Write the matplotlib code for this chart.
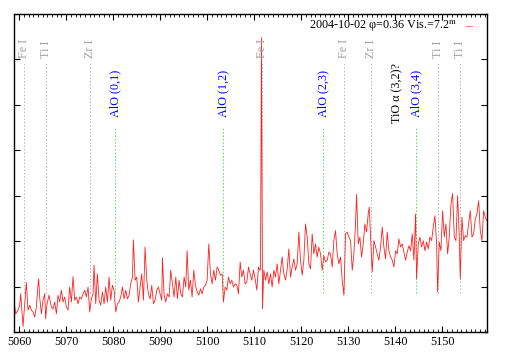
import matplotlib
matplotlib.use("Agg")
import matplotlib.pyplot as plt
from matplotlib.ticker import MultipleLocator, NullFormatter

plt.rcParams["font.family"] = ["Liberation Serif", "DejaVu Serif"]
plt.rcParams["mathtext.fontset"] = "stix"

# spectrum (wavelength in Angstrom, flux in arbitrary units)
wavelength = [
    5058.90, 5059.26, 5059.75, 5060.11, 5060.32, 5060.82, 5061.52, 5061.88, 5062.23, 5062.59,
    5062.94, 5063.30, 5063.65, 5064.01, 5064.15, 5064.36, 5064.72, 5065.07, 5065.43, 5065.64,
    5065.92, 5066.35, 5066.84, 5067.20, 5067.55, 5067.91, 5068.26, 5068.62, 5068.97, 5069.33,
    5069.68, 5070.04, 5070.39, 5070.74, 5071.10, 5071.45, 5071.81, 5072.16, 5072.52, 5072.87,
    5073.23, 5073.58, 5073.94, 5074.29, 5074.65, 5075.00, 5075.35, 5075.71, 5075.92, 5076.28,
    5076.63, 5076.99, 5077.34, 5077.70, 5078.05, 5078.40, 5078.76, 5079.11, 5079.47, 5079.82,
    5080.18, 5080.53, 5080.89, 5081.24, 5081.60, 5081.95, 5082.30, 5082.66, 5083.01, 5083.37,
    5083.72, 5084.08, 5084.29, 5084.65, 5085.00, 5085.35, 5085.71, 5086.06, 5086.42, 5086.77,
    5087.13, 5087.48, 5087.84, 5088.19, 5088.55, 5088.90, 5089.26, 5089.61, 5089.96, 5090.32,
    5090.46, 5090.82, 5091.17, 5091.52, 5091.88, 5092.23, 5092.59, 5092.94, 5093.30, 5093.65,
    5094.01, 5094.36, 5094.72, 5095.07, 5095.43, 5095.71, 5096.06, 5096.42, 5096.77, 5097.13,
    5097.48, 5097.84, 5098.19, 5098.55, 5098.90, 5099.26, 5099.61, 5099.96, 5100.32, 5100.67,
    5101.03, 5101.38, 5101.74, 5102.09, 5102.45, 5102.80, 5103.16, 5103.44, 5103.79, 5104.15,
    5104.50, 5104.86, 5105.21, 5105.57, 5105.92, 5106.28, 5106.63, 5106.99, 5107.34, 5107.70,
    5108.05, 5108.40, 5108.76, 5109.11, 5109.47, 5109.82, 5110.18, 5110.53, 5110.89, 5111.17,
    5111.31, 5111.52, 5111.74, 5112.02, 5112.38, 5112.73, 5113.09, 5113.44, 5113.79, 5114.15,
    5114.50, 5114.86, 5115.21, 5115.57, 5115.92, 5116.28, 5116.63, 5116.99, 5117.34, 5117.70,
    5118.05, 5118.40, 5118.76, 5119.11, 5119.47, 5119.82, 5120.18, 5120.53, 5120.89, 5121.24,
    5121.60, 5121.95, 5122.30, 5122.66, 5123.01, 5123.37, 5123.72, 5124.08, 5124.43, 5124.79,
    5125.14, 5125.50, 5125.85, 5126.21, 5126.56, 5126.91, 5127.27, 5127.62, 5127.98, 5128.33,
    5128.69, 5129.04, 5129.40, 5129.75, 5130.11, 5130.46, 5130.82, 5131.17, 5131.52, 5131.74,
    5132.09, 5132.45, 5132.80, 5133.16, 5133.51, 5133.87, 5134.22, 5134.43, 5134.72, 5135.07,
    5135.43, 5135.78, 5136.13, 5136.49, 5136.84, 5137.20, 5137.55, 5137.91, 5138.26, 5138.62,
    5138.97, 5139.33, 5139.68, 5140.04, 5140.39, 5140.74, 5141.10, 5141.45, 5141.81, 5142.16,
    5142.52, 5142.87, 5143.23, 5143.58, 5143.94, 5144.29, 5144.50, 5144.86, 5145.21, 5145.57,
    5145.92, 5146.28, 5146.63, 5146.99, 5147.34, 5147.70, 5148.05, 5148.40, 5148.76, 5148.97,
    5149.33, 5149.68, 5150.04, 5150.39, 5150.74, 5151.10, 5151.45, 5151.81, 5152.16, 5152.52,
    5152.87, 5153.23, 5153.58, 5153.79, 5154.15, 5154.50, 5154.86, 5155.21, 5155.57, 5155.92,
    5156.28, 5156.63, 5156.99, 5157.34, 5157.70, 5158.05, 5158.40, 5158.76, 5159.11, 5159.40,
]
flux = [
    0.70, 0.40, 0.48, 0.59, 0.84, 0.12, 1.09, 0.48, 0.59, 0.48,
    0.44, 0.33, 0.55, 1.03, 1.17, 0.77, 0.40, 0.70, 0.84, 0.29,
    0.62, 0.81, 0.55, 0.51, 0.66, 0.40, 0.81, 0.66, 0.92, 0.66,
    0.77, 0.55, 0.48, 0.99, 0.66, 1.22, 0.70, 0.77, 0.62, 0.77,
    0.73, 0.84, 0.92, 0.77, 0.99, 0.44, 0.73, 0.84, 1.47, 0.62,
    1.28, 0.70, 0.59, 0.88, 0.62, 0.99, 0.66, 1.21, 0.70, 1.03,
    0.92, 0.44, 0.62, 0.66, 0.77, 0.99, 0.73, 0.92, 0.73, 0.81,
    1.06, 1.21, 2.03, 1.14, 1.21, 0.66, 0.99, 1.28, 0.70, 1.87,
    1.14, 0.84, 0.73, 1.03, 0.62, 0.70, 0.92, 0.99, 0.84, 0.70,
    1.63, 0.81, 0.66, 0.84, 0.77, 1.36, 1.06, 0.77, 1.21, 0.73,
    1.14, 0.84, 0.77, 1.21, 0.99, 1.79, 0.92, 1.14, 0.77, 1.36,
    1.03, 0.88, 0.81, 0.95, 0.84, 0.99, 1.03, 1.14, 1.94, 1.28,
    1.06, 1.36, 1.14, 1.43, 1.36, 1.25, 1.28, 0.66, 0.99, 0.92,
    1.21, 1.06, 1.14, 0.99, 1.06, 1.03, 0.84, 1.54, 1.21, 1.36,
    1.06, 1.10, 1.43, 1.28, 1.14, 1.36, 1.17, 0.92, 1.43, 1.36,
    1.39, 6.48, 0.51, 1.36, 1.14, 1.32, 1.06, 1.28, 0.99, 1.36,
    1.21, 1.50, 1.06, 1.36, 1.65, 1.28, 1.14, 1.39, 1.83, 1.21,
    1.43, 1.61, 1.36, 1.50, 2.20, 1.58, 1.25, 1.58, 2.38, 2.09,
    1.50, 1.39, 2.16, 1.72, 1.94, 1.65, 1.87, 1.72, 1.36, 1.68,
    1.54, 1.58, 1.76, 1.72, 1.43, 2.01, 2.23, 1.72, 1.50, 1.65,
    1.14, 0.81, 2.16, 2.20, 2.09, 2.01, 1.36, 1.72, 2.38, 3.03,
    1.94, 2.09, 1.65, 1.94, 2.38, 2.20, 2.60, 2.75, 2.09, 1.32,
    2.01, 1.87, 1.72, 1.58, 1.87, 2.31, 1.87, 1.61, 2.20, 1.79,
    1.65, 1.58, 1.43, 1.79, 1.72, 2.05, 1.87, 1.94, 1.76, 1.58,
    1.76, 1.90, 1.79, 2.16, 1.58, 2.60, 1.17, 1.94, 2.09, 1.87,
    2.01, 1.79, 1.98, 1.83, 2.09, 2.01, 2.31, 2.56, 1.94, 0.88,
    1.98, 1.79, 2.67, 2.09, 2.38, 1.72, 2.09, 2.82, 3.05, 2.09,
    2.01, 3.00, 2.09, 1.17, 2.53, 2.01, 2.12, 2.09, 2.38, 2.67,
    2.09, 2.16, 2.49, 2.60, 2.89, 2.23, 2.01, 2.67, 2.53, 2.45,
]

# atomic line identifications (grey) and AlO band heads (blue)
atomic_labels = ["Fe I", "Ti I", "Zr I", "Fe I", "Fe I", "Zr I", "Ti I", "Ti I"]
atomic_waves = [5060.96, 5065.64, 5075.0, 5111.6, 5129.1, 5134.8, 5149.0, 5153.7]
alo_labels = ["AlO (0,1)", "AlO (1,2)", "AlO (2,3)", "AlO (3,4)"]
alo_waves = [5080.4, 5103.3, 5124.6, 5144.4]
tio_label = "TiO α (3,2)?"
tio_wave = 5140.3

key_text = "2004-10-02 φ=0.36 Vis.=7.2$^{\\rm m}$"


def main():
    fig = plt.figure(figsize=(5.09, 3.56), dpi=100)
    ax = fig.add_axes([0.0275, 0.0674, 0.9295, 0.8933])

    fs = 8.7
    for w, lab in zip(atomic_waves, atomic_labels):
        ax.plot([w, w], [0.86, 5.95], color="#b4b4b4", lw=0.7, ls=(0, (1.5, 2)))
        ax.text(w, 6.03, lab, rotation=90, ha="center", va="bottom",
                color="#a0a0a0", fontsize=fs)
    for w, lab in zip(alo_waves, alo_labels):
        ax.plot([w, w], [0.86, 4.52], color="#55dd55", lw=0.7, ls=(0, (1.5, 2)))
        ax.text(w, 4.74, lab, rotation=90, ha="center", va="bottom",
                color="#0000ff", fontsize=fs)
    ax.text(tio_wave, 4.6, tio_label, rotation=90, ha="center", va="bottom",
            color="black", fontsize=fs)

    ax.plot(wavelength, flux, color="#ff2020", lw=0.6)

    # gnuplot-style key in the top right corner
    ax.text(0.937, 0.962, key_text, transform=ax.transAxes, ha="right",
            va="center", fontsize=fs)
    ax.plot([0.955, 0.968], [0.962, 0.962], transform=ax.transAxes,
            color="#ff8080", lw=0.8)

    ax.set_xlim(5058.9, 5159.5)
    ax.set_ylim(0, 7)
    ax.xaxis.set_major_locator(MultipleLocator(10))
    ax.xaxis.set_minor_locator(MultipleLocator(1))
    ax.yaxis.set_major_locator(MultipleLocator(1))
    ax.yaxis.set_major_formatter(NullFormatter())
    ax.tick_params(axis="both", which="both", direction="in",
                   top=True, right=True, labelsize=fs, pad=3)
    ax.tick_params(which="major", length=4, width=0.8)
    ax.tick_params(which="minor", length=2, width=0.6)
    for s in ax.spines.values():
        s.set_linewidth(1.0)

    fig.savefig("out.png", dpi=100)


if __name__ == "__main__":
    main()
